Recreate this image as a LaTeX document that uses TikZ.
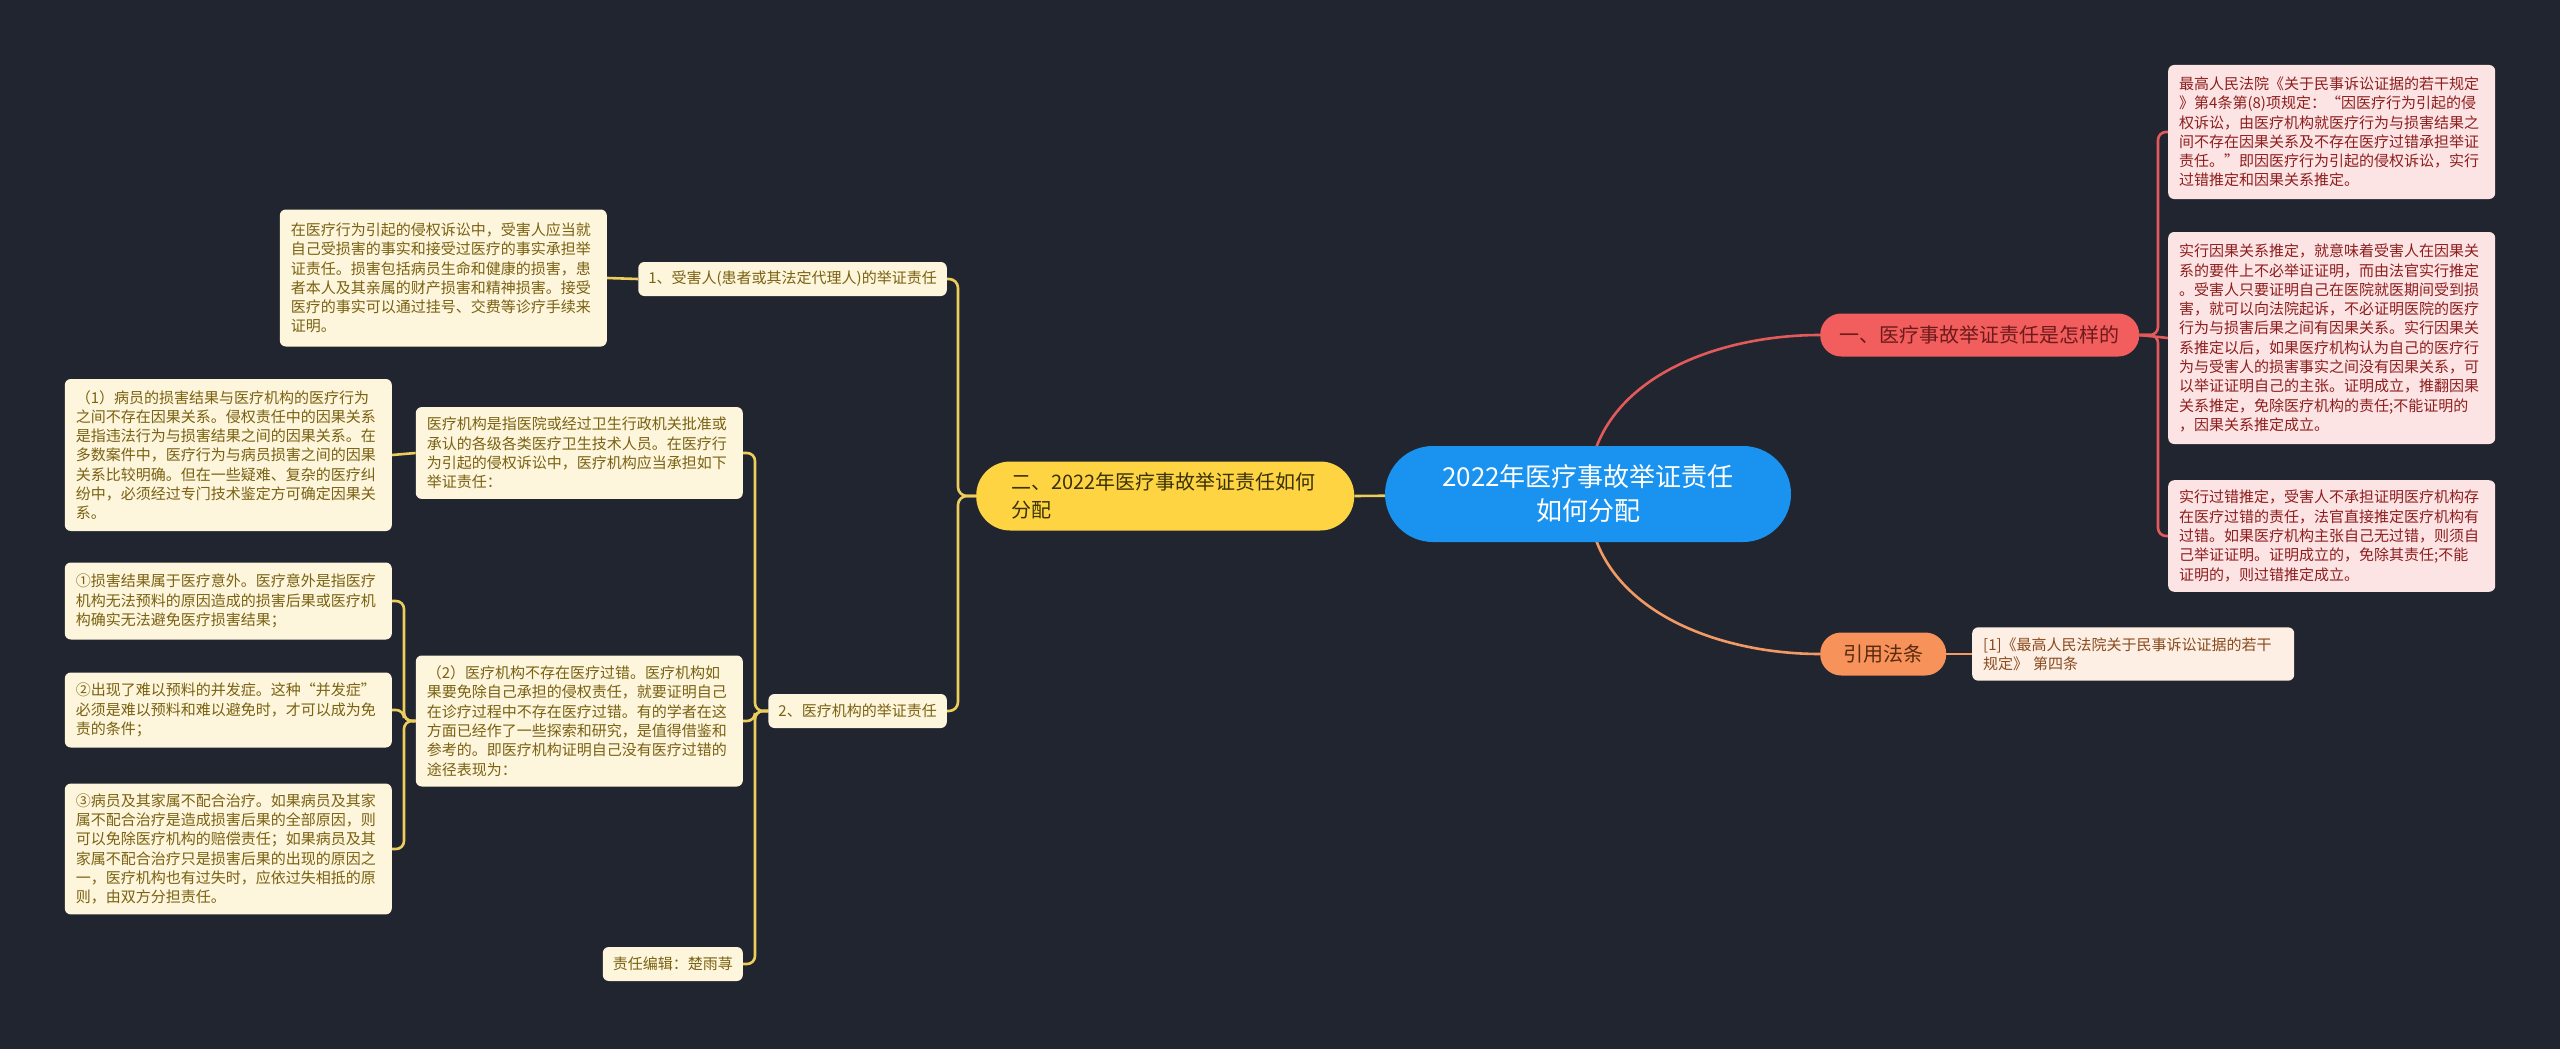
\documentclass[tikz,border=0pt]{standalone}
\usepackage{fontspec}
\setmainfont{Noto Sans CJK SC}
\definecolor{bgc}{HTML}{21252F}
\definecolor{rootc}{HTML}{1A93F0}
\definecolor{redc}{HTML}{F25D5D}
\definecolor{redtxt}{HTML}{6E1A1A}
\definecolor{redlnc}{HTML}{E35A5A}
\definecolor{pinkf}{HTML}{FCE4E4}
\definecolor{pinktxt}{HTML}{8E1E1E}
\definecolor{orc}{HTML}{F6925A}
\definecolor{ortxt}{HTML}{5A2A0E}
\definecolor{orlnc}{HTML}{F29A64}
\definecolor{peachf}{HTML}{FDEFE4}
\definecolor{peachtxt}{HTML}{8A4A1E}
\definecolor{yelc}{HTML}{FED442}
\definecolor{yeltxt}{HTML}{3A3208}
\definecolor{yellnc}{HTML}{EDCD5C}
\definecolor{creamf}{HTML}{FDF5DC}
\definecolor{creamtxt}{HTML}{7A6212}
\pgfdeclarelayer{back}
\pgfdeclarelayer{edges}
\pgfsetlayers{back,edges,main}
\begin{document}
\begin{tikzpicture}[x=1pt,y=-1pt,
  base/.style={rectangle, font=\fontsize{15}{19.3}\selectfont},
  leafY/.style={base, rounded corners=6pt, fill=creamf, text=creamtxt, align=left, text width=305pt, inner xsep=11pt, inner ysep=10pt},
  leafR/.style={leafY, fill=pinkf, text=pinktxt},
  leafO/.style={leafY, fill=peachf, text=peachtxt, text width=300pt},
  tagY/.style={base, rounded corners=6pt, fill=creamf, text=creamtxt, inner xsep=10pt, inner ysep=0pt, minimum height=34pt},
  rootnode/.style={rectangle, rounded corners=48pt, fill=rootc, text=white, minimum width=406pt, minimum height=96pt, align=center, font=\fontsize{26}{34}\selectfont},
  pillY/.style={rectangle, rounded corners=34pt, fill=yelc, text=yeltxt, text width=308pt, align=left, inner xsep=35pt, minimum height=69pt, font=\fontsize{20}{28}\selectfont},
  pillR/.style={rectangle, rounded corners=21pt, fill=redc, text=redtxt, minimum width=319pt, minimum height=43pt, font=\fontsize{20}{24}\selectfont},
  pillO/.style={pillR, fill=orc, text=ortxt, minimum width=126pt},
  yln/.style={draw=yellnc, line width=2.6pt},
  rln/.style={draw=redlnc, line width=2.6pt},
  oln/.style={draw=orlnc, line width=2.6pt}
]
\begin{pgfonlayer}{back}
\fill[bgc] (0,0) rectangle (2560,1049);
\end{pgfonlayer}
\useasboundingbox (0,0) rectangle (2560,1049);

% root and main branches
\node[rootnode] (root) at (1588,494) {2022年医疗事故举证责任\\如何分配};
\node[pillY, anchor=west] (yp) at (976,496) {二、2022年医疗事故举证责任如何\\分配};
\node[pillR, anchor=west] (rp) at (1820,335) {一、医疗事故举证责任是怎样的};
\node[pillO, anchor=west] (op) at (1820,654) {引用法条};

% right leaves
\node[leafR, anchor=west, minimum height=134pt] (r1) at (2168,132) {最高人民法院《关于民事诉讼证据的若干规定\\》第4条第(8)项规定：“因医疗行为引起的侵\\权诉讼，由医疗机构就医疗行为与损害结果之\\间不存在因果关系及不存在医疗过错承担举证\\责任。”即因医疗行为引起的侵权诉讼，实行\\过错推定和因果关系推定。};
\node[leafR, anchor=west, minimum height=212pt] (r2) at (2168,338) {实行因果关系推定，就意味着受害人在因果关\\系的要件上不必举证证明，而由法官实行推定\\。受害人只要证明自己在医院就医期间受到损\\害，就可以向法院起诉，不必证明医院的医疗\\行为与损害后果之间有因果关系。实行因果关\\系推定以后，如果医疗机构认为自己的医疗行\\为与受害人的损害事实之间没有因果关系，可\\以举证证明自己的主张。证明成立，推翻因果\\关系推定，免除医疗机构的责任;不能证明的\\，因果关系推定成立。};
\node[leafR, anchor=west, minimum height=109pt] (r3) at (2168,536) {实行过错推定，受害人不承担证明医疗机构存\\在医疗过错的责任，法官直接推定医疗机构有\\过错。如果医疗机构主张自己无过错，则须自\\己举证证明。证明成立的，免除其责任;不能\\证明的，则过错推定成立。};
\node[leafO, anchor=west, minimum height=50pt] (o1) at (1972,654) {[1]《最高人民法院关于民事诉讼证据的若干\\规定》 第四条};

% left side
\node[tagY, anchor=east] (l1) at (947,279) {1、受害人(患者或其法定代理人)的举证责任};
\node[leafY, anchor=east, minimum height=137pt] (l1a) at (607,278) {在医疗行为引起的侵权诉讼中，受害人应当就\\自己受损害的事实和接受过医疗的事实承担举\\证责任。损害包括病员生命和健康的损害，患\\者本人及其亲属的财产损害和精神损害。接受\\医疗的事实可以通过挂号、交费等诊疗手续来\\证明。};
\node[tagY, anchor=east] (l2) at (947,711) {2、医疗机构的举证责任};
\node[leafY, anchor=east, minimum height=90pt] (l2a) at (743,453) {医疗机构是指医院或经过卫生行政机关批准或\\承认的各级各类医疗卫生技术人员。在医疗行\\为引起的侵权诉讼中，医疗机构应当承担如下\\举证责任：};
\node[leafY, anchor=east, minimum height=152pt] (l2a1) at (392,455) {（1）病员的损害结果与医疗机构的医疗行为\\之间不存在因果关系。侵权责任中的因果关系\\是指违法行为与损害结果之间的因果关系。在\\多数案件中，医疗行为与病员损害之间的因果\\关系比较明确。但在一些疑难、复杂的医疗纠\\纷中，必须经过专门技术鉴定方可确定因果关\\系。};
\node[leafY, anchor=east, minimum height=131pt] (l2b) at (743,721) {（2）医疗机构不存在医疗过错。医疗机构如\\果要免除自己承担的侵权责任，就要证明自己\\在诊疗过程中不存在医疗过错。有的学者在这\\方面已经作了一些探索和研究，是值得借鉴和\\参考的。即医疗机构证明自己没有医疗过错的\\途径表现为：};
\node[leafY, anchor=east, minimum height=77pt] (c1) at (392,601) {①损害结果属于医疗意外。医疗意外是指医疗\\机构无法预料的原因造成的损害后果或医疗机\\构确实无法避免医疗损害结果；};
\node[leafY, anchor=east, minimum height=75pt] (c2) at (392,710) {②出现了难以预料的并发症。这种“并发症”\\必须是难以预料和难以避免时，才可以成为免\\责的条件；};
\node[leafY, anchor=east, minimum height=130pt] (c3) at (392,849) {③病员及其家属不配合治疗。如果病员及其家\\属不配合治疗是造成损害后果的全部原因，则\\可以免除医疗机构的赔偿责任；如果病员及其\\家属不配合治疗只是损害后果的出现的原因之\\一，医疗机构也有过失时，应依过失相抵的原\\则，由双方分担责任。};
\node[tagY, anchor=east] (ed) at (743,964) {责任编辑：楚雨荨};

% connectors
\begin{pgfonlayer}{edges}
\draw[yln] (root.center) -- (yp.east);
\draw[rln] (root.center) .. controls (1588,384) and (1710,335) .. (rp.west);
\draw[oln] (root.center) .. controls (1588,604) and (1710,654) .. (op.west);
\draw[rln, rounded corners=8pt] (rp.east) -- (2158,335) |- (r1.west);
\draw[rln] (rp.east) -- (r2.west);
\draw[rln, rounded corners=8pt] (rp.east) -- (2158,335) |- (r3.west);
\draw[oln] (op.east) -- (o1.west);
\draw[yln, rounded corners=9pt] (yp.west) -- (958,496) |- (l1.east);
\draw[yln, rounded corners=9pt] (yp.west) -- (958,496) |- (l2.east);
\draw[yln] (l1.west) -- (l1a.east);
\draw[yln, rounded corners=8pt] (l2.west) -- (755,711) |- (l2a.east);
\draw[yln, rounded corners=8pt] (l2.west) -- (755,711) |- (l2b.east);
\draw[yln, rounded corners=8pt] (l2.west) -- (755,711) |- (ed.east);
\draw[yln] (l2a.west) -- (l2a1.east);
\draw[yln, rounded corners=8pt] (l2b.west) -- (404,721) |- (c1.east);
\draw[yln, rounded corners=8pt] (l2b.west) -- (404,721) |- (c2.east);
\draw[yln, rounded corners=8pt] (l2b.west) -- (404,721) |- (c3.east);
\end{pgfonlayer}
\end{tikzpicture}
\end{document}
